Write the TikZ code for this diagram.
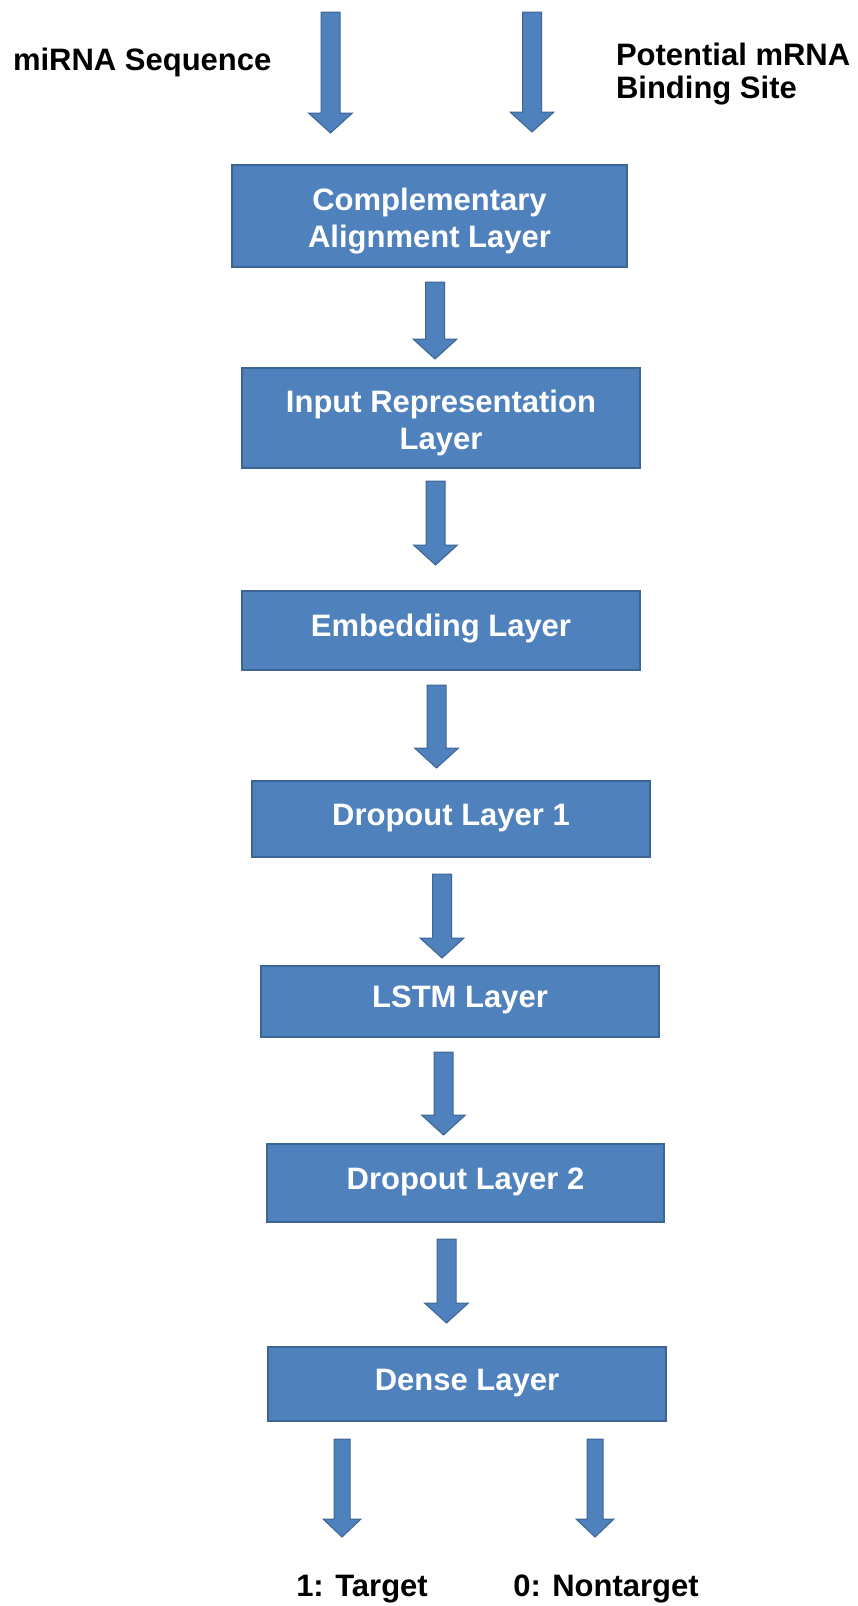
\documentclass[tikz,border=0pt]{standalone}
\usepackage{fontspec}
\setmainfont{Liberation Sans}
\usetikzlibrary{calc}
\definecolor{boxfill}{HTML}{4F81BD}
\definecolor{boxline}{HTML}{3C6594}
\newcommand{\toppad}{\rule{0pt}{32pt}}
\begin{document}
\begin{tikzpicture}[x=1pt,y=-1pt,
  every node/.style={inner sep=0pt, outer sep=0pt},
  lbl/.style={font=\fontsize{31}{36}\selectfont\bfseries, text=black},
  layer/.style={draw=boxline, fill=boxfill, line width=1.5pt, text=white,
    font=\fontsize{31}{37}\selectfont\bfseries, align=center, minimum width=398pt},
  oneline/.style={text height=23pt, text depth=11pt},
  arrow shaft/.store in=\ashaft, arrow head/.store in=\ahead,
  arrow tip length/.store in=\ahlen,
  arrow shaft=9.5pt, arrow head=22pt, arrow tip length=20pt,
  blockarrow/.style={draw=boxline, fill=boxfill, line width=1pt, line join=miter,
    to path={let \p1=(\tikztostart), \p2=(\tikztotarget) in
      (\x1-\ashaft,\y1) -- (\x1+\ashaft,\y1) -- (\x1+\ashaft,\y2+\ahlen)
      -- (\x1+\ahead,\y2+\ahlen) -- (\x2,\y2) -- (\x1-\ahead,\y2+\ahlen)
      -- (\x1-\ashaft,\y2+\ahlen) -- cycle}},
  thin arrow/.style={arrow shaft=8pt, arrow head=19pt, arrow tip length=18pt}
]
\fill[white] (0,0) rectangle (857,1606);
\useasboundingbox (0,0) rectangle (857,1606);

% input labels
\node[lbl, anchor=base west] (mirna) at (13,70) {miRNA Sequence};
\node[lbl, anchor=base west] (pot1) at (616,65) {Potential mRNA};
\node[lbl, anchor=base west] (pot2) at (616,98) {Binding Site};

% network layers
\node[layer, minimum width=395pt, minimum height=102pt] (align) at (429.5,216)
  {\toppad Complementary\\Alignment Layer};
\node[layer, minimum height=100pt] (input) at (441,418)
  {\toppad Input Representation\\Layer};
\node[layer, oneline, minimum height=79pt] (embed) at (441,630.5) {Embedding Layer};
\node[layer, oneline, minimum height=76pt] (drop1) at (451,819) {Dropout Layer 1};
\node[layer, oneline, minimum height=71pt] (lstm) at (460,1001.5) {LSTM Layer};
\node[layer, oneline, minimum width=397pt, minimum height=78pt] (drop2) at (465.5,1183) {Dropout Layer 2};
\node[layer, oneline, minimum height=74pt] (dense) at (467,1384) {Dense Layer};

% output labels
\node[lbl, anchor=base] (target) at (362,1596) {1: Target};
\node[lbl, anchor=base] (nontarget) at (606,1596) {0: Nontarget};

% arrow end points
\coordinate (inL0) at (330.5,12);   \coordinate (inL1) at (330.5,133);
\coordinate (inR0) at (532,12);     \coordinate (inR1) at (532,132);
\coordinate (a10) at (435,282);     \coordinate (a11) at (435,359);
\coordinate (a20) at (435.5,481);   \coordinate (a21) at (435.5,565);
\coordinate (a30) at (436.5,685);   \coordinate (a31) at (436.5,768);
\coordinate (a40) at (442,874);     \coordinate (a41) at (442,958);
\coordinate (a50) at (443.5,1052);  \coordinate (a51) at (443.5,1135);
\coordinate (a60) at (446.5,1239);  \coordinate (a61) at (446.5,1323);
\coordinate (outL0) at (342,1439);  \coordinate (outL1) at (342,1537);
\coordinate (outR0) at (595,1439);  \coordinate (outR1) at (595,1537);

% block arrows
\draw[blockarrow] (inL0) to (inL1);
\draw[blockarrow] (inR0) to (inR1);
\draw[blockarrow] (a10) to (a11);
\draw[blockarrow] (a20) to (a21);
\draw[blockarrow] (a30) to (a31);
\draw[blockarrow] (a40) to (a41);
\draw[blockarrow] (a50) to (a51);
\draw[blockarrow] (a60) to (a61);
\draw[blockarrow, thin arrow] (outL0) to (outL1);
\draw[blockarrow, thin arrow] (outR0) to (outR1);
\end{tikzpicture}
\end{document}
